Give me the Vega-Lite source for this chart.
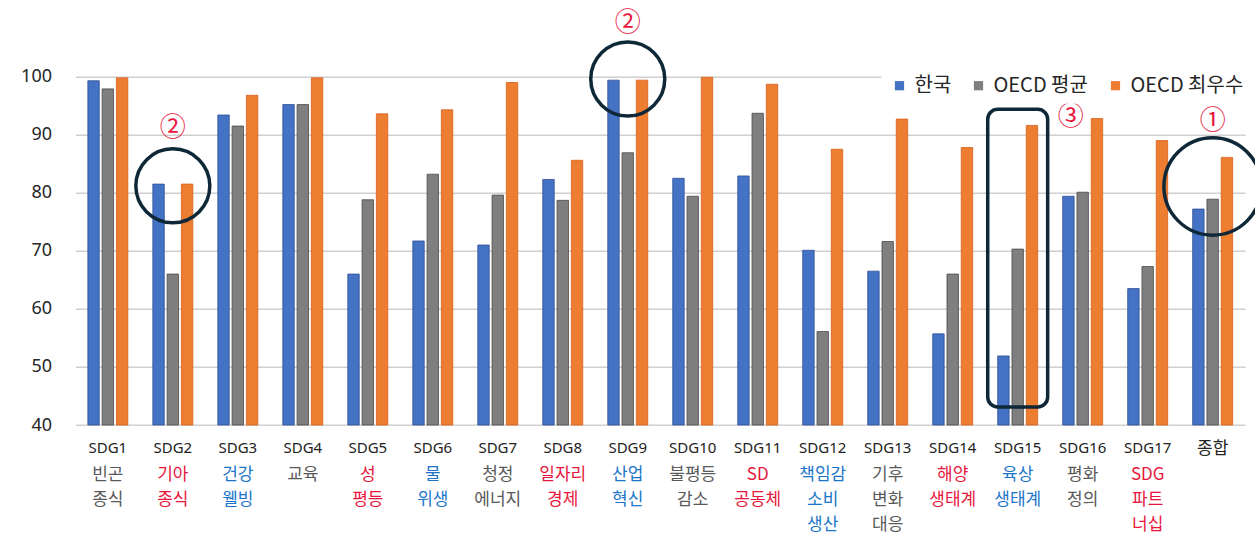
{
  "$schema": "https://vega.github.io/schema/vega-lite/v6.json",
  "width": 1169.5,
  "height": 348.3,
  "autosize": {"type": "none"},
  "padding": {"left": 75.5, "top": 76.7, "right": 10, "bottom": 109},
  "background": "white",
  "config": {
    "view": {"stroke": null},
    "font": "'Noto Sans', 'Noto Sans CJK KR', sans-serif"
  },
  "datasets": {
    "bars": [
      {"sdg": "SDG1", "series": "한국", "value": 99.3}, {"sdg": "SDG1", "series": "OECD 평균", "value": 97.9}, {"sdg": "SDG1", "series": "OECD 최우수", "value": 99.8},
      {"sdg": "SDG2", "series": "한국", "value": 81.5}, {"sdg": "SDG2", "series": "OECD 평균", "value": 66.0}, {"sdg": "SDG2", "series": "OECD 최우수", "value": 81.5},
      {"sdg": "SDG3", "series": "한국", "value": 93.4}, {"sdg": "SDG3", "series": "OECD 평균", "value": 91.5}, {"sdg": "SDG3", "series": "OECD 최우수", "value": 96.8},
      {"sdg": "SDG4", "series": "한국", "value": 95.2}, {"sdg": "SDG4", "series": "OECD 평균", "value": 95.2}, {"sdg": "SDG4", "series": "OECD 최우수", "value": 99.8},
      {"sdg": "SDG5", "series": "한국", "value": 66.0}, {"sdg": "SDG5", "series": "OECD 평균", "value": 78.8}, {"sdg": "SDG5", "series": "OECD 최우수", "value": 93.6},
      {"sdg": "SDG6", "series": "한국", "value": 71.7}, {"sdg": "SDG6", "series": "OECD 평균", "value": 83.2}, {"sdg": "SDG6", "series": "OECD 최우수", "value": 94.3},
      {"sdg": "SDG7", "series": "한국", "value": 71.0}, {"sdg": "SDG7", "series": "OECD 평균", "value": 79.6}, {"sdg": "SDG7", "series": "OECD 최우수", "value": 99.0},
      {"sdg": "SDG8", "series": "한국", "value": 82.3}, {"sdg": "SDG8", "series": "OECD 평균", "value": 78.7}, {"sdg": "SDG8", "series": "OECD 최우수", "value": 85.6},
      {"sdg": "SDG9", "series": "한국", "value": 99.4}, {"sdg": "SDG9", "series": "OECD 평균", "value": 86.9}, {"sdg": "SDG9", "series": "OECD 최우수", "value": 99.4},
      {"sdg": "SDG10", "series": "한국", "value": 82.5}, {"sdg": "SDG10", "series": "OECD 평균", "value": 79.4}, {"sdg": "SDG10", "series": "OECD 최우수", "value": 99.9},
      {"sdg": "SDG11", "series": "한국", "value": 82.9}, {"sdg": "SDG11", "series": "OECD 평균", "value": 93.7}, {"sdg": "SDG11", "series": "OECD 최우수", "value": 98.7},
      {"sdg": "SDG12", "series": "한국", "value": 70.1}, {"sdg": "SDG12", "series": "OECD 평균", "value": 56.1}, {"sdg": "SDG12", "series": "OECD 최우수", "value": 87.5},
      {"sdg": "SDG13", "series": "한국", "value": 66.5}, {"sdg": "SDG13", "series": "OECD 평균", "value": 71.6}, {"sdg": "SDG13", "series": "OECD 최우수", "value": 92.7},
      {"sdg": "SDG14", "series": "한국", "value": 55.7}, {"sdg": "SDG14", "series": "OECD 평균", "value": 66.0}, {"sdg": "SDG14", "series": "OECD 최우수", "value": 87.8},
      {"sdg": "SDG15", "series": "한국", "value": 51.9}, {"sdg": "SDG15", "series": "OECD 평균", "value": 70.3}, {"sdg": "SDG15", "series": "OECD 최우수", "value": 91.6},
      {"sdg": "SDG16", "series": "한국", "value": 79.4}, {"sdg": "SDG16", "series": "OECD 평균", "value": 80.1}, {"sdg": "SDG16", "series": "OECD 최우수", "value": 92.8},
      {"sdg": "SDG17", "series": "한국", "value": 63.5}, {"sdg": "SDG17", "series": "OECD 평균", "value": 67.3}, {"sdg": "SDG17", "series": "OECD 최우수", "value": 89.0},
      {"sdg": "종합", "series": "한국", "value": 77.2}, {"sdg": "종합", "series": "OECD 평균", "value": 78.9}, {"sdg": "종합", "series": "OECD 최우수", "value": 86.1}
    ],
    "names": [
      {"sdg": "SDG1", "name": ["빈곤", "종식"], "grp": "회색"},
      {"sdg": "SDG2", "name": ["기아", "종식"], "grp": "적색"},
      {"sdg": "SDG3", "name": ["건강", "웰빙"], "grp": "청색"},
      {"sdg": "SDG4", "name": ["교육"], "grp": "회색"},
      {"sdg": "SDG5", "name": ["성", "평등"], "grp": "적색"},
      {"sdg": "SDG6", "name": ["물", "위생"], "grp": "청색"},
      {"sdg": "SDG7", "name": ["청정", "에너지"], "grp": "회색"},
      {"sdg": "SDG8", "name": ["일자리", "경제"], "grp": "적색"},
      {"sdg": "SDG9", "name": ["산업", "혁신"], "grp": "청색"},
      {"sdg": "SDG10", "name": ["불평등", "감소"], "grp": "회색"},
      {"sdg": "SDG11", "name": ["SD", "공동체"], "grp": "적색"},
      {"sdg": "SDG12", "name": ["책임감", "소비", "생산"], "grp": "청색"},
      {"sdg": "SDG13", "name": ["기후", "변화", "대응"], "grp": "회색"},
      {"sdg": "SDG14", "name": ["해양", "생태계"], "grp": "적색"},
      {"sdg": "SDG15", "name": ["육상", "생태계"], "grp": "청색"},
      {"sdg": "SDG16", "name": ["평화", "정의"], "grp": "회색"},
      {"sdg": "SDG17", "name": ["SDG", "파트", "너십"], "grp": "적색"}
    ],
    "circlesSmall": [
      {"sdg": "SDG2", "value": 81.2},
      {"sdg": "SDG9", "value": 99.6}
    ],
    "circlesBig": [
      {"sdg": "종합", "value": 81.1}
    ],
    "box": [
      {"sdg": "SDG15", "top": 94.4, "bottom": 43.1}
    ],
    "marks": [
      {"sdg": "SDG2", "value": 91.2, "label": "②"},
      {"sdg": "SDG9", "value": 109.3, "label": "②"},
      {"sdg": "종합", "value": 92.3, "label": "①"}
    ],
    "marks3": [
      {"sdg": "SDG16", "value": 93.1, "label": "③"}
    ]
  },
  "encoding": {
    "x": {
      "field": "sdg",
      "type": "nominal",
      "sort": ["SDG1","SDG2","SDG3","SDG4","SDG5","SDG6","SDG7","SDG8","SDG9","SDG10","SDG11","SDG12","SDG13","SDG14","SDG15","SDG16","SDG17","종합"],
      "scale": {"paddingInner": 0.385, "paddingOuter": 0.19},
      "axis": {
        "title": null,
        "labelAngle": 0,
        "ticks": false,
        "tickSize": 0,
        "domain": false,
        "labelPadding": 15,
        "labelFontSize": {"condition": {"test": "datum.value == '종합'", "value": 17}, "value": 15},
        "labelColor": "#222222",
        "labelFont": "'Noto Sans', 'Noto Sans CJK KR', sans-serif"
      }
    }
  },
  "layer": [
    {
      "data": {"name": "bars"},
      "mark": {"type": "bar", "strokeWidth": 0.8},
      "encoding": {
        "xOffset": {
          "field": "series",
          "type": "nominal",
          "scale": {"domain": ["한국", "OECD 평균", "OECD 최우수"], "paddingInner": 0.2, "paddingOuter": 0}
        },
        "y": {
          "field": "value",
          "type": "quantitative",
          "scale": {"domain": [40, 100], "zero": false, "nice": false},
          "axis": {
            "title": null,
            "values": [40, 50, 60, 70, 80, 90, 100],
            "ticks": false,
            "tickSize": 0,
            "domain": false,
            "labelPadding": 24,
            "labelFontSize": 18,
            "labelColor": "#262626",
            "gridColor": "#d0d0d0",
            "gridWidth": 1.5
          }
        },
        "y2": {"datum": 40},
        "color": {
          "field": "series",
          "type": "nominal",
          "scale": {"domain": ["한국", "OECD 평균", "OECD 최우수"], "range": ["#4472C4", "#7F7F7F", "#ED7D31"]},
          "legend": {
            "title": null,
            "orient": "none",
            "legendX": 806,
            "legendY": -9,
            "direction": "horizontal",
            "symbolType": "square",
            "symbolSize": 85,
            "symbolStrokeWidth": 0,
            "labelFont": "'Noto Sans CJK KR', sans-serif",
            "labelFontSize": 20,
            "labelColor": "#262626",
            "labelOffset": 5,
            "columnPadding": 17,
            "fillColor": "white",
            "padding": 8
          }
        },
        "stroke": {
          "field": "series",
          "type": "nominal",
          "scale": {"domain": ["한국", "OECD 평균", "OECD 최우수"], "range": ["#2F4F95", "#4A4A4A", "#D8601A"]},
          "legend": null
        }
      }
    },
    {
      "data": {"name": "names"},
      "mark": {"type": "text", "baseline": "top", "align": "center", "dy": 41.5, "lineHeight": 25, "fontSize": 17, "font": "'Noto Sans CJK KR', sans-serif"},
      "encoding": {
        "y": {"datum": 40},
        "text": {"field": "name"},
        "color": {
          "field": "grp",
          "type": "nominal",
          "scale": {"domain": ["적색", "청색", "회색"], "range": ["#E8163C", "#1B75C9", "#595959"]},
          "legend": null
        }
      }
    },
    {
      "data": {"name": "box"},
      "mark": {"type": "bar", "width": {"band": 1.5}, "fill": null, "fillOpacity": 0, "stroke": "#0E2837", "strokeWidth": 3.5, "cornerRadius": 10},
      "encoding": {
        "y": {"field": "top", "type": "quantitative"},
        "y2": {"field": "bottom"}
      }
    },
    {
      "data": {"name": "circlesSmall"},
      "mark": {"type": "point", "shape": "circle", "filled": false, "size": 5476, "stroke": "#0E2837", "strokeWidth": 3.5, "opacity": 1},
      "encoding": {
        "y": {"field": "value", "type": "quantitative"}
      }
    },
    {
      "data": {"name": "circlesBig"},
      "mark": {"type": "point", "shape": "circle", "filled": false, "size": 9500, "stroke": "#0E2837", "strokeWidth": 3.5, "opacity": 1},
      "encoding": {
        "y": {"field": "value", "type": "quantitative"}
      }
    },
    {
      "data": {"name": "marks"},
      "mark": {"type": "text", "baseline": "middle", "align": "center", "fontSize": 26, "color": "#E8163C", "font": "'Noto Sans CJK KR', sans-serif"},
      "encoding": {
        "y": {"field": "value", "type": "quantitative"},
        "text": {"field": "label"}
      }
    },
    {
      "data": {"name": "marks3"},
      "mark": {"type": "text", "baseline": "middle", "align": "center", "fontSize": 26, "dx": -12, "color": "#E8163C", "font": "'Noto Sans CJK KR', sans-serif"},
      "encoding": {
        "y": {"field": "value", "type": "quantitative"},
        "text": {"field": "label"}
      }
    }
  ],
  "resolve": {"scale": {"color": "independent"}}
}
